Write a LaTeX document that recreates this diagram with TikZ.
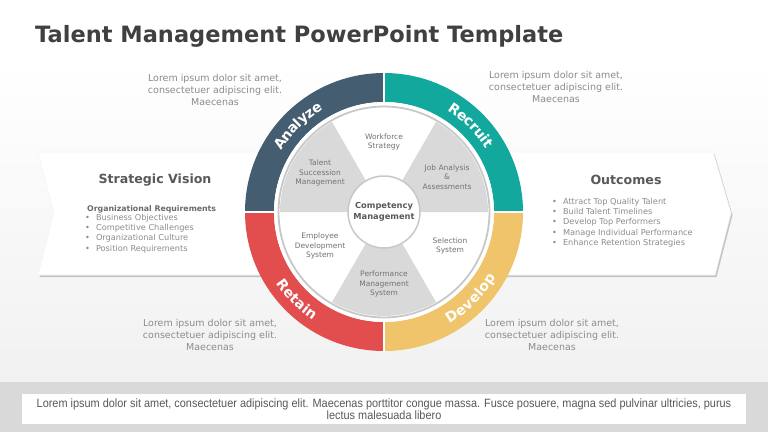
\documentclass[tikz,border=0pt]{standalone}
\usepackage{fontspec}
\setmainfont{DejaVu Sans}
\newfontfamily\condfont[FakeStretch=0.91]{Liberation Sans}
\usetikzlibrary{shadows,decorations.text}
\definecolor{titlec}{HTML}{404040}
\definecolor{headc}{HTML}{595959}
\definecolor{txtc}{HTML}{8C8C8C}
\definecolor{analyzec}{HTML}{455D70}
\definecolor{recruitc}{HTML}{13A89E}
\definecolor{retainc}{HTML}{E24E4E}
\definecolor{developc}{HTML}{F0C46A}
\definecolor{sectc}{HTML}{D9D9D9}
\definecolor{linec}{HTML}{C8C8C8}
\definecolor{bandc}{HTML}{D9D9D9}
\definecolor{bgc}{HTML}{F1F1F1}
\def\ringfnt{\color{white}\bfseries\fontsize{14}{14}\selectfont}
\begin{document}
\begin{tikzpicture}[x=1pt,y=-1pt,
  lorem/.style={align=center,text=txtc,font=\fontsize{9.5}{12}\selectfont,inner sep=0pt},
  ringtext/.style={decorate,decoration={text along path,text align=center,raise=-5pt,text={|\ringfnt|#1}}},
  sectlabel/.style={align=center,text=headc!85,font=\fontsize{7.5}{9.8}\selectfont,inner sep=0pt},
  heading/.style={text=headc,font=\bfseries\fontsize{12.6}{14}\selectfont,inner sep=0pt},
  bullets/.style={align=left,text=txtc,font=\fontsize{8.2}{10.2}\selectfont,inner sep=0pt,anchor=north west}]
\useasboundingbox (0,0) rectangle (768,432);
\fill[white] (0,0) rectangle (768,432);
\shade[top color=white,bottom color=bgc] (0,60) rectangle (768,382);
\fill[bandc] (0,382) rectangle (768,432);

% title
\node[anchor=west,text=titlec,font=\bfseries\fontsize{22.5}{24}\selectfont,inner sep=0pt] (title) at (35,36) {Talent Management PowerPoint Template};

% chevron panel
\path[fill=white,draw=white!96!black,line width=0.6pt,drop shadow={shadow xshift=1.5pt,shadow yshift=-2pt,opacity=0.35,fill=black!60}]
  (38,152) -- (713,152) -- (731,213) -- (715,275) -- (38,275) -- (54,213) -- cycle;

% circle
\coordinate (ctr) at (384,212);
\begin{scope}[shift={(384,212)},yscale=-1]
  \fill[analyzec] (90:110) -- (90:139) arc[start angle=90,end angle=180,radius=139] -- (180:110) arc[start angle=180,end angle=90,radius=110] -- cycle;
  \fill[recruitc] (0:110) -- (0:139) arc[start angle=0,end angle=90,radius=139] -- (90:110) arc[start angle=90,end angle=0,radius=110] -- cycle;
  \fill[retainc] (180:110) -- (180:139) arc[start angle=180,end angle=270,radius=139] -- (270:110) arc[start angle=270,end angle=180,radius=110] -- cycle;
  \fill[developc] (270:110) -- (270:139) arc[start angle=270,end angle=360,radius=139] -- (0:110) arc[start angle=0,end angle=-90,radius=110] -- cycle;
  \draw[white,line width=2pt] (90:108) -- (90:141) (270:108) -- (270:141) (0:108) -- (0:141) (180:108) -- (180:141);
  \fill[white] (0,0) circle[radius=110];
  \fill[sectc] (0,0) -- (0:104) arc[start angle=0,end angle=60,radius=104] -- cycle;
  \fill[sectc] (0,0) -- (120:104) arc[start angle=120,end angle=180,radius=104] -- cycle;
  \fill[sectc] (0,0) -- (240:104) arc[start angle=240,end angle=300,radius=104] -- cycle;
  \draw[linec,line width=1.8pt] (0,0) circle[radius=105.5];
  \fill[white] (0,0) circle[radius=36];
  \draw[linec,line width=1.5pt] (0,0) circle[radius=36];
\end{scope}

% curved ring labels (page frame: visual angle t is written -t)
\path[ringtext={Analyze}] (ctr) ++(-172:124.5) arc[start angle=-172,end angle=-98,radius=124.5];
\path[ringtext={Recruit}] (ctr) ++(-82:124.5) arc[start angle=-82,end angle=-8,radius=124.5];
\path[ringtext={Retain}] (ctr) ++(-188:124.5) arc[start angle=-188,end angle=-262,radius=124.5];
\path[ringtext={Develop}] (ctr) ++(-278:124.5) arc[start angle=-278,end angle=-352,radius=124.5];

\node[align=center,text=headc,font=\bfseries\fontsize{8.3}{11}\selectfont,inner sep=0pt] (comp) at (384,212) {Competency\\Management};
\node[sectlabel] (workforce) at (384,142) {Workforce\\Strategy};
\node[sectlabel] (jobanalysis) at (447,177) {Job Analysis\\\&\\Assessments};
\node[sectlabel] (talent) at (320,173) {Talent\\Succession\\Management};
\node[sectlabel] (employee) at (320,246) {Employee\\Development\\System};
\node[sectlabel] (selection) at (450,246) {Selection\\System};
\node[sectlabel] (performance) at (384,284) {Performance\\Management\\System};

% lorem blocks
\node[lorem] (loremtl) at (215,90) {Lorem ipsum dolor sit amet,\\consectetuer adipiscing elit.\\Maecenas};
\node[lorem] (loremtr) at (556,87) {Lorem ipsum dolor sit amet,\\consectetuer adipiscing elit.\\Maecenas};
\node[lorem] (lorembl) at (210,335) {Lorem ipsum dolor sit amet,\\consectetuer adipiscing elit.\\Maecenas};
\node[lorem] (lorembr) at (552,335) {Lorem ipsum dolor sit amet,\\consectetuer adipiscing elit.\\Maecenas};

% left panel text
\node[heading] (strategic) at (155,180) {Strategic Vision};
\node[anchor=west,text=headc!90,font=\bfseries\fontsize{7.8}{10}\selectfont,inner sep=0pt] (orgreq) at (87,209) {Organizational Requirements};
\node[bullets] (leftlist) at (85,214) {\textbullet\hspace{6pt}Business Objectives\\\textbullet\hspace{6pt}Competitive Challenges\\\textbullet\hspace{6pt}Organizational Culture\\\textbullet\hspace{6pt}Position Requirements};

% right panel text
\node[heading] (outcomes) at (626,180) {Outcomes};
\node[bullets] (rightlist) at (552,198) {\textbullet\hspace{6pt}Attract Top Quality Talent\\\textbullet\hspace{6pt}Build Talent Timelines\\\textbullet\hspace{6pt}Develop Top Performers\\\textbullet\hspace{6pt}Manage Individual Performance\\\textbullet\hspace{6pt}Enhance Retention Strategies};

% footer
\node[fill=white,minimum width=724pt,minimum height=30pt,inner sep=0pt] (footbox) at (384,409) {};
\node[align=center,text=headc,font=\condfont\fontsize{12}{12}\selectfont,inner sep=0pt] (foottext) at (footbox.center) {Lorem ipsum dolor sit amet, consectetuer adipiscing elit. Maecenas porttitor congue massa. Fusce posuere, magna sed pulvinar ultricies, purus\\lectus malesuada libero};
\end{tikzpicture}
\end{document}
